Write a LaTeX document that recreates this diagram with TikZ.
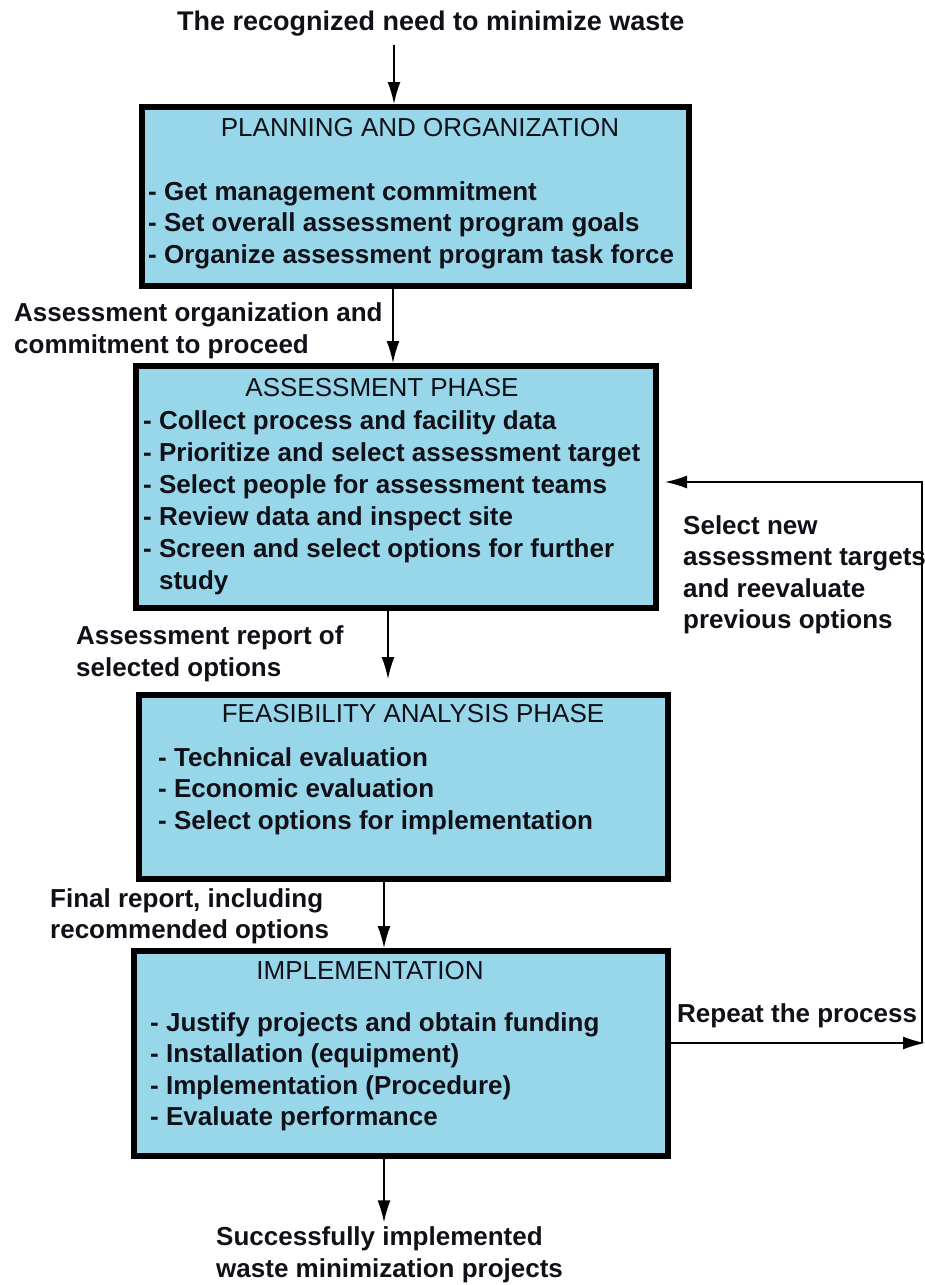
\documentclass[tikz,border=0pt]{standalone}
\usepackage{fontspec}
\setmainfont{Liberation Sans}
\usetikzlibrary{arrows.meta}
\definecolor{boxblue}{HTML}{98D7E9}
\definecolor{ink}{HTML}{101018}
\newcommand{\txtlines}[1]{\begin{tabular}[t]{@{}l@{}}#1\end{tabular}}

\begin{document}
\begin{tikzpicture}[x=1pt,y=-1pt,
  box/.style={draw=black, line width=6pt, fill=boxblue, inner sep=0pt},
  txt/.style={anchor=base west, inner sep=0pt, text=ink,
              font=\fontsize{26}{31.5}\selectfont\bfseries},
  txtwide/.style={txt, font=\fontsize{26}{32}\selectfont\bfseries},
  head/.style={anchor=base, inner sep=0pt, text=ink,
               font=\fontsize{26}{31.5}\selectfont},
  arr/.style={draw=black, line width=1.6pt, -{Latex[length=22pt,width=13pt]}}]
\useasboundingbox (0,0) rectangle (925,1285);

% columns of the vertical connectors and corners of the feedback loop
\coordinate (ax0) at (394,0);
\coordinate (ax1) at (393,0);
\coordinate (ax2) at (388,0);
\coordinate (ax3) at (384,0);
\coordinate (edge) at (925,1043);
\coordinate (rt) at (922,482);

% phase boxes
\node[box, minimum width=547pt, minimum height=179pt] (b1) at (415.5,196.5) {};
\node[box, minimum width=520pt, minimum height=242pt] (b2) at (396,487) {};
\node[box, minimum width=529pt, minimum height=184pt] (b3) at (403.5,787) {};
\node[box, minimum width=534pt, minimum height=205pt] (b4) at (401,1053.5) {};

% box contents
\node[head] (h1) at (420,136) {PLANNING AND ORGANIZATION};
\node[txt] (i1) at (148,200) {\txtlines{- Get management commitment\\
  - Set overall assessment program goals\\
  - Organize assessment program task force}};

\node[head] (h2) at (382,396) {ASSESSMENT PHASE};
\node[txtwide] (i2) at (143,429) {\txtlines{- Collect process and facility data\\
  - Prioritize and select assessment target\\
  - Select people for assessment teams\\
  - Review data and inspect site\\
  - Screen and select options for further\\
  \hphantom{- }study}};

\node[head] (h3) at (413,722) {FEASIBILITY ANALYSIS PHASE};
\node[txt] (i3) at (158,766) {\txtlines{- Technical evaluation\\
  - Economic evaluation\\
  - Select options for implementation}};

\node[head] (h4) at (370,979) {IMPLEMENTATION};
\node[txt] (i4) at (150,1031) {\txtlines{- Justify projects and obtain funding\\
  - Installation (equipment)\\
  - Implementation (Procedure)\\
  - Evaluate performance}};

% outside texts
\node[txt, font=\fontsize{27}{32}\selectfont\bfseries] (title) at (177,30) {The recognized need to minimize waste};
\node[txtwide] (l1) at (14,321) {\txtlines{Assessment organization and\\commitment to proceed}};
\node[txtwide] (l2) at (76,644) {\txtlines{Assessment report of\\selected options}};
\node[txt] (l3) at (50,907) {\txtlines{Final report, including\\recommended options}};
\node[txt] (l4) at (683,534) {\txtlines{Select new\\assessment targets\\and reevaluate\\previous options}};
\node[txt] (l5) at (677,1022) {Repeat the process};
\node[txtwide] (res) at (216,1245) {\txtlines{Successfully implemented\\waste minimization projects}};

% main flow
\draw[arr, shorten <=9pt] (title.south -| ax0) -- (b1.north -| ax0);
\draw[arr] (b1.south -| ax1) -- (b2.north -| ax1);
\draw[arr, shorten >=13pt] (b2.south -| ax2) -- (b3.north -| ax2);
\draw[arr] (b3.south -| ax3) -- (b4.north -| ax3);
\draw[arr] (b4.south -| ax3) -- (res.north -| ax3);

% repeat loop
\draw[arr] (b4.east |- edge) -- (edge);
\draw[arr, shorten >=6pt] (rt |- edge) -- (rt) -- (b2.east |- rt);
\end{tikzpicture}
\end{document}
